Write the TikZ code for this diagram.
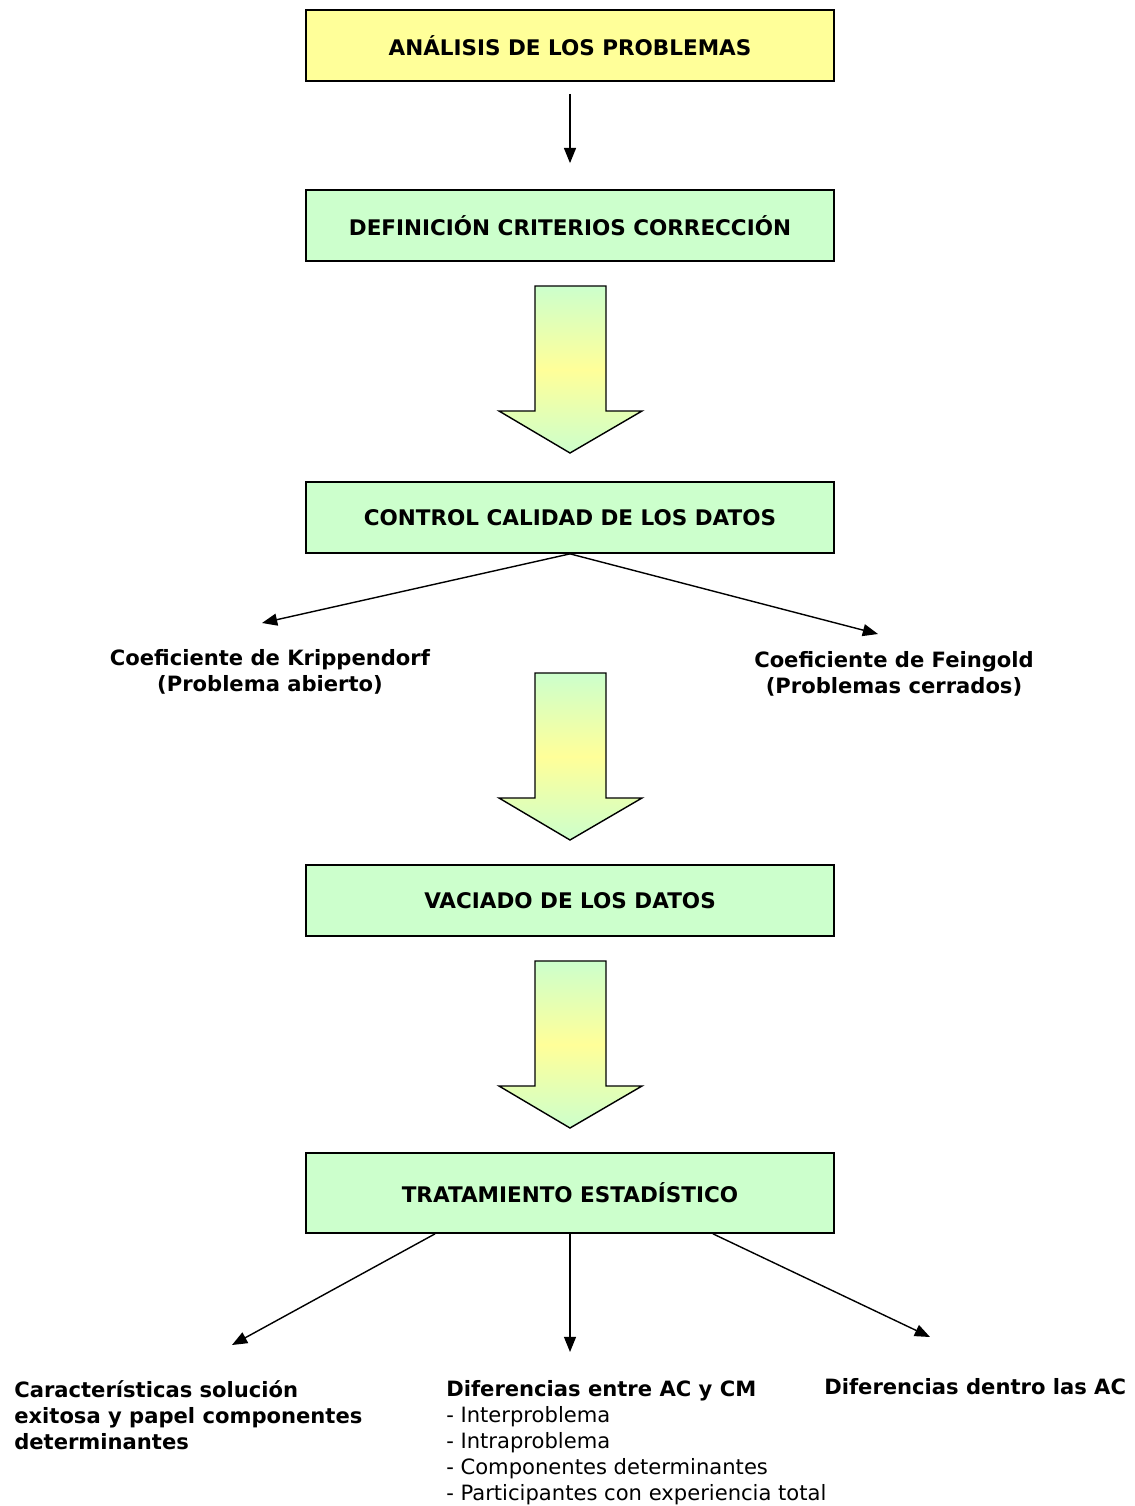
\documentclass[tikz,border=0pt]{standalone}
\usepackage{fontspec}
\setmainfont{DejaVu Sans}
\usetikzlibrary{arrows.meta,positioning}
\definecolor{amarillo}{HTML}{FFFF99}
\definecolor{verde}{HTML}{CCFFCC}
\tikzset{
  caja/.style={rectangle, draw, line width=1.2pt, fill=verde,
               minimum width=13.2cm, minimum height=1.775cm,
               font=\fontsize{15.3}{18}\selectfont\bfseries},
  flecha/.style={-{Triangle[length=3.8mm,width=3mm]}, line width=1pt},
  texto/.style={font=\fontsize{15}{18.4}\selectfont\bfseries, inner sep=0pt},
  lista/.style={font=\fontsize{15}{18.4}\selectfont, inner sep=0pt, align=left},
  gorda/.style={draw, line width=1pt, top color=verde, bottom color=verde, middle color=amarillo}
}
% flecha ancha con degradado, #1 = y del extremo superior
\newcommand\flechagorda[1]{%
  \path[gorda] (535,#1) -- (606,#1) -- (606,{#1+125}) -- (642,{#1+125})
    -- (570,{#1+167}) -- (499,{#1+125}) -- (535,{#1+125}) -- cycle;}

\begin{document}
\begin{tikzpicture}[x=0.025cm,y=-0.025cm]
\useasboundingbox (0,0) rectangle (1134,1506);

\node[caja,fill=amarillo] (ana) at (570,45.5) {ANÁLISIS DE LOS PROBLEMAS};
\node[caja] (def) at (570,225.5) {DEFINICIÓN CRITERIOS CORRECCIÓN};
\node[caja] (con) at (570,517.5) {CONTROL CALIDAD DE LOS DATOS};
\node[caja] (vac) at (570,900.5) {VACIADO DE LOS DATOS};
\node[caja,minimum height=2cm] (tra) at (570,1193) {TRATAMIENTO ESTADÍSTICO};

% base = linea de abajo
\node[texto,align=center,anchor=base] (kri) at (270,691) {Coeficiente de Krippendorf\\(Problema abierto)};
\node[texto,align=center,anchor=base] (fei) at (894,693) {Coeficiente de Feingold\\(Problemas cerrados)};

\node[texto,align=left,anchor=base west] (car) at (14,1449)
  {Características solución\\exitosa y papel componentes\\determinantes};
\node[lista,anchor=base west] (dif) at (446,1500)
  {\textbf{Diferencias entre AC y CM}\\- Interproblema\\- Intraproblema\\- Componentes determinantes\\- Participantes con experiencia total};
\node[texto,anchor=base west] (den) at (824,1394) {Diferencias dentro las AC};

% puntas de las flechas
\coordinate (pkri) at (262,623);
\coordinate (pfei) at (878,634);
\coordinate (pcar) at (232,1345);
\coordinate (pdif) at (570,1352);
\coordinate (pden) at (930,1337);

\draw[flecha,shorten <=0.3cm,shorten >=0.65cm] (ana) -- (def);
\flechagorda{286}
\flechagorda{673}
\flechagorda{961}

\draw[flecha] (con.south) -- (pkri);
\draw[flecha] (con.south) -- (pfei);
\draw[flecha] ([xshift=-3.375cm]tra.south) -- (pcar);
\draw[flecha] (tra.south) -- (pdif);
\draw[flecha] ([xshift=3.575cm]tra.south) -- (pden);
\end{tikzpicture}
\end{document}
